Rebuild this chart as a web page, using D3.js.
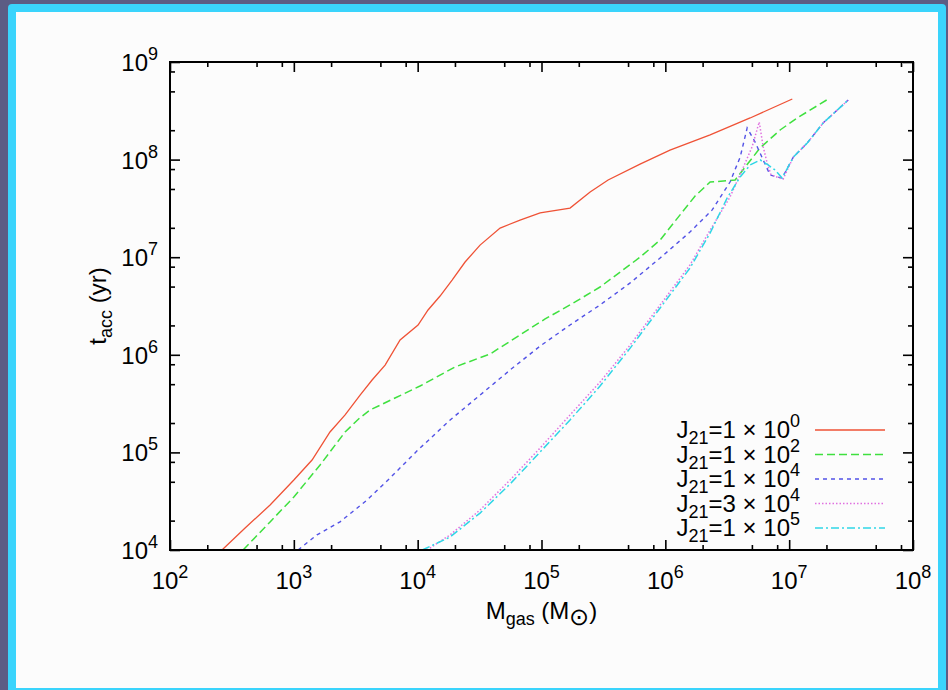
<!DOCTYPE html>
<html lang="en">
<head>
<meta charset="utf-8">
<title>t_acc vs M_gas</title>
<script src="https://d3js.org/d3.v7.min.js"></script>
<style>
  body { margin: 0; background: #5c5c84; }
  svg { display: block; font-family: "Liberation Sans", Arial, sans-serif; }
</style>
</head>
<body>
<div id="chart"></div>
<script>
// values (M in solar masses, t in years)
var redM   = [263, 404, 643, 1000, 1403, 1959, 2594, 3428, 4285, 5458, 7211, 1.007e4, 1.213e4, 1.517e4, 1.897e4, 2.415e4, 3.19e4, 4.63e4, 6.71e4, 9.75e4, 1.70e5, 2.47e5, 3.45e5, 6.25e5, 1.09e6, 2.30e6, 4.84e6, 1.06e7];
var redT   = [1e4, 1.68e4, 2.89e4, 5.21e4, 8.36e4, 1.62e5, 2.42e5, 3.87e5, 5.52e5, 7.85e5, 1.42e6, 2.02e6, 2.88e6, 4.0e6, 5.83e6, 8.93e6, 1.33e7, 1.99e7, 2.40e7, 2.84e7, 3.19e7, 4.66e7, 6.18e7, 9.0e7, 1.25e8, 1.79e8, 2.67e8, 4.18e8];

var greenM = [389, 643, 1000, 1629, 2594, 3400, 4130, 6561, 1.045e4, 2.00e4, 3.85e4, 6.71e4, 1.07e5, 1.87e5, 2.97e5, 4.32e5, 6.25e5, 9.08e5, 1.31e6, 1.74e6, 2.30e6, 3.66e6, 5.83e6, 8.45e6, 1.16e7, 2.07e7];
var greenT = [1e4, 1.94e4, 3.49e4, 7.43e4, 1.62e5, 2.25e5, 2.72e5, 3.61e5, 4.79e5, 7.50e5, 1.02e6, 1.60e6, 2.33e6, 3.48e6, 4.95e6, 7.05e6, 1.0e7, 1.50e7, 2.70e7, 4.24e7, 5.89e7, 6.18e7, 1.32e8, 2.01e8, 2.67e8, 4.18e8];

var blueM  = [1081, 1538, 2360, 3899, 5984, 1.007e4, 1.83e4, 3.19e4, 5.57e4, 9.75e4, 1.70e5, 2.97e5, 5.20e5, 9.08e5, 1.58e6, 2.39e6, 3.33e6, 4.02e6, 4.58e6, 5.31e6, 6.17e6, 7.01e6, 8.77e6, 1.08e7, 1.40e7, 1.88e7, 3.00e7];
var blueT  = [1e4, 1.43e4, 1.94e4, 3.25e4, 5.47e4, 1.06e5, 2.15e5, 3.87e5, 6.98e5, 1.23e6, 2.02e6, 3.24e6, 5.45e6, 9.82e6, 1.81e7, 3.05e7, 5.89e7, 1.06e8, 2.11e8, 1.51e8, 9.91e7, 6.95e7, 6.47e7, 1.06e8, 1.48e8, 2.37e8, 4.08e8];

var magM   = [1.19e4, 1.83e4, 3.19e4, 5.57e4, 9.75e4, 1.70e5, 2.97e5, 5.20e5, 9.08e5, 1.58e6, 2.30e6, 3.33e6, 4.17e6, 5.02e6, 5.73e6, 6.17e6, 6.64e6, 7.14e6, 8.93e6, 1.08e7, 1.40e7, 1.88e7, 3.00e7];
var magT   = [1e4, 1.43e4, 2.57e4, 5.21e4, 1.11e5, 2.42e5, 5.26e5, 1.26e6, 3.24e6, 8.32e6, 1.90e7, 4.14e7, 7.82e7, 1.35e8, 2.43e8, 1.35e8, 9.23e7, 6.95e7, 6.32e7, 1.06e8, 1.48e8, 2.37e8, 4.08e8];

var cyanM  = [1.09e4, 1.83e4, 3.19e4, 5.57e4, 9.75e4, 1.70e5, 2.97e5, 5.20e5, 9.08e5, 1.58e6, 2.30e6, 3.16e6, 4.02e6, 4.84e6, 5.83e6, 6.76e6, 7.71e6, 8.77e6, 1.08e7, 1.40e7, 1.88e7, 3.00e7];
var cyanT  = [1e4, 1.36e4, 2.39e4, 4.74e4, 1.01e5, 2.15e5, 4.79e5, 1.17e6, 3.02e6, 7.74e6, 1.77e7, 4.05e7, 6.64e7, 8.81e7, 9.91e7, 8.81e7, 7.82e7, 6.47e7, 1.06e8, 1.48e8, 2.37e8, 4.08e8];

var legendCoef = ["1", "1", "1", "3", "1"];
var legendExp  = ["0", "2", "4", "4", "5"];

var xTickExp = [2, 3, 4, 5, 6, 7, 8];
var yTickExp = [4, 5, 6, 7, 8, 9];
var minorMult = [2, 5, 8];

var w = 948, h = 690;
var padL = 170, padR = 913, padT = 62, padB = 550;
var fs = 24, fsSmall = 18;

var series = [
  { m: redM,   t: redT,   color: "#ef5236", dash: null,        width: 1.3 },
  { m: greenM, t: greenT, color: "#3fe03f", dash: "8,4",       width: 1.5 },
  { m: blueM,  t: blueT,  color: "#5252e6", dash: "4,4",       width: 1.4 },
  { m: magM,   t: magT,   color: "#e070e0", dash: "1.5,2",     width: 1.5 },
  { m: cyanM,  t: cyanT,  color: "#2fd6e6", dash: "8,3,2,3",   width: 1.5 }
];

var x = d3.scaleLog().domain([1e2, 1e8]).range([padL, padR]);
var y = d3.scaleLog().domain([1e4, 1e9]).range([padB, padT]);

var xMajor = xTickExp.map(function(e) { return Math.pow(10, e); });
var yMajor = yTickExp.map(function(e) { return Math.pow(10, e); });
var xMinor = [], yMinor = [];
xTickExp.slice(0, -1).forEach(function(e) {
  minorMult.forEach(function(k) { xMinor.push(k * Math.pow(10, e)); });
});
yTickExp.slice(0, -1).forEach(function(e) {
  minorMult.forEach(function(k) { yMinor.push(k * Math.pow(10, e)); });
});

var svg = d3.select("#chart").append("svg")
  .attr("width", w)
  .attr("height", h);

// slide frame
svg.append("rect").attr("width", w).attr("height", h).attr("fill", "#5c5c84");
svg.append("rect")
  .attr("x", 8).attr("y", 4).attr("width", 938).attr("height", 700)
  .attr("rx", 4)
  .attr("fill", "#3ad4fc");
svg.append("rect")
  .attr("x", 16).attr("y", 12).attr("width", 922).attr("height", 676)
  .attr("fill", "#fcfcfc");

// curves
svg.append("clipPath").attr("id", "plotclip")
  .append("rect")
  .attr("x", padL).attr("y", padT)
  .attr("width", padR - padL).attr("height", padB - padT);

var line = d3.line()
  .x(function(d) { return x(d[0]); })
  .y(function(d) { return y(d[1]); });

svg.append("g").attr("clip-path", "url(#plotclip)")
  .selectAll("path")
  .data(series)
  .enter()
  .append("path")
  .attr("d", function(s) { return line(d3.zip(s.m, s.t)); })
  .attr("fill", "none")
  .attr("stroke", function(s) { return s.color; })
  .attr("stroke-width", function(s) { return s.width; })
  .attr("stroke-dasharray", function(s) { return s.dash; });

// ticks on all four sides, pointing in
function ticks(axis, vals, size, tr) {
  var g = svg.append("g")
    .attr("transform", tr)
    .call(axis.tickValues(vals).tickSize(-size).tickSizeOuter(0).tickFormat(""));
  g.select(".domain").remove();
  g.selectAll("line").attr("stroke", "#000").attr("stroke-width", 1.6);
}
ticks(d3.axisBottom(x), xMajor, 10, "translate(0," + padB + ")");
ticks(d3.axisBottom(x), xMinor, 5, "translate(0," + padB + ")");
ticks(d3.axisTop(x), xMajor, 10, "translate(0," + padT + ")");
ticks(d3.axisTop(x), xMinor, 5, "translate(0," + padT + ")");
ticks(d3.axisLeft(y), yMajor, 10, "translate(" + padL + ",0)");
ticks(d3.axisLeft(y), yMinor, 5, "translate(" + padL + ",0)");
ticks(d3.axisRight(y), yMajor, 10, "translate(" + padR + ",0)");
ticks(d3.axisRight(y), yMinor, 5, "translate(" + padR + ",0)");

svg.append("rect")
  .attr("x", padL).attr("y", padT)
  .attr("width", padR - padL).attr("height", padB - padT)
  .attr("fill", "none")
  .attr("stroke", "#000")
  .attr("stroke-width", 2);

// tick labels
var xl = svg.selectAll(".xlab")
  .data(xTickExp)
  .enter()
  .append("text")
  .attr("class", "xlab")
  .attr("x", function(e) { return x(Math.pow(10, e)); })
  .attr("y", 589)
  .attr("text-anchor", "middle")
  .attr("font-size", fs);
xl.append("tspan").text("10");
xl.append("tspan").attr("dy", -11).attr("font-size", fsSmall).text(function(e) { return e; });

var yl = svg.selectAll(".ylab")
  .data(yTickExp)
  .enter()
  .append("text")
  .attr("class", "ylab")
  .attr("x", 158)
  .attr("y", function(e) { return y(Math.pow(10, e)) + 9; })
  .attr("text-anchor", "end")
  .attr("font-size", fs);
yl.append("tspan").text("10");
yl.append("tspan").attr("dy", -11).attr("font-size", fsSmall).text(function(e) { return e; });

// axis titles
var xt = svg.append("text")
  .attr("x", (padL + padR) / 2)
  .attr("y", 619)
  .attr("text-anchor", "middle")
  .attr("font-size", fs);
xt.append("tspan").text("M");
xt.append("tspan").attr("dy", 6).attr("font-size", fsSmall).text("gas");
xt.append("tspan").attr("dy", -6).text(" (M");
xt.append("tspan").attr("dy", 6).attr("font-size", fs).text("\u2299");
xt.append("tspan").attr("dy", -6).text(")");

var yt = svg.append("text")
  .attr("transform", "translate(106," + (padT + padB) / 2 + ") rotate(-90)")
  .attr("text-anchor", "middle")
  .attr("font-size", fs);
yt.append("tspan").text("t");
yt.append("tspan").attr("dy", 6).attr("font-size", fsSmall).text("acc");
yt.append("tspan").attr("dy", -6).text(" (yr)");

// legend
var leg = svg.selectAll(".leg")
  .data(series)
  .enter()
  .append("g")
  .attr("class", "leg")
  .attr("transform", function(s, i) { return "translate(0," + (430 + i * 24.5) + ")"; });

leg.append("line")
  .attr("x1", 815).attr("x2", 885)
  .attr("stroke", function(s) { return s.color; })
  .attr("stroke-width", function(s) { return s.width; })
  .attr("stroke-dasharray", function(s) { return s.dash; });

var lt = leg.append("text")
  .attr("x", 800)
  .attr("y", 8)
  .attr("text-anchor", "end")
  .attr("font-size", fs);
lt.append("tspan").text("J");
lt.append("tspan").attr("dy", 6).attr("font-size", fsSmall).text("21");
lt.append("tspan").attr("dy", -6).text(function(s, i) { return "=" + legendCoef[i] + " \u00d7 10"; });
lt.append("tspan").attr("dy", -11).attr("font-size", fsSmall).text(function(s, i) { return legendExp[i]; });
</script>
</body>
</html>
